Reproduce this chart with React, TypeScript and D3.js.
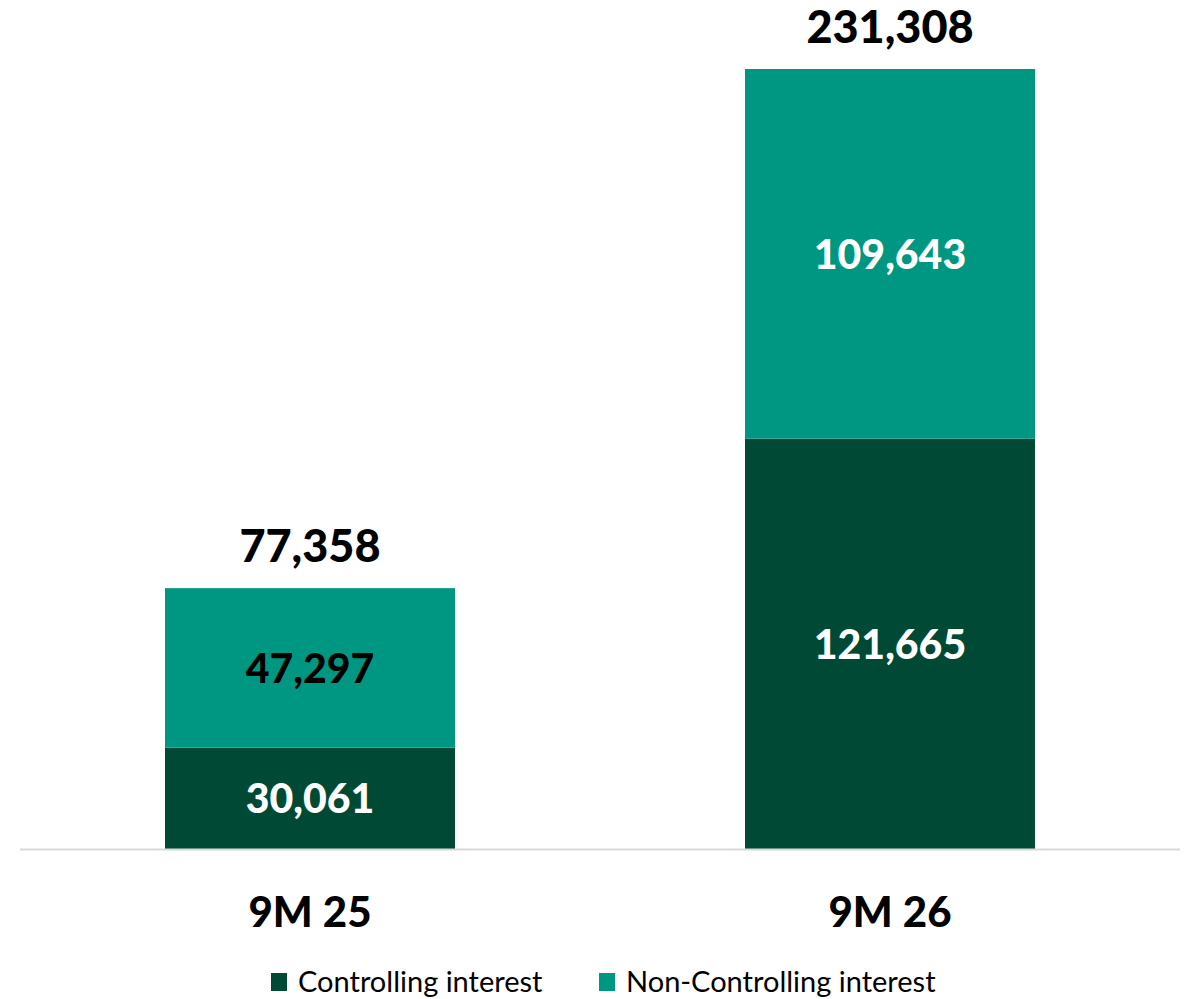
import React from "react";
import * as d3 from "d3";

const categories = ["9M 25", "9M 26"];
const controlling = [30061, 121665];
const nonControlling = [47297, 109643];
const totals = [77358, 231308];
const seriesNames = ["Controlling interest", "Non-Controlling interest"];
const colors = ["#004A35", "#009782"];

const W = 1190;
const H = 999;

export default function App() {
  const x = d3.scaleBand<string>().domain(categories).range([20, 1180]).paddingInner(0.5).paddingOuter(0.25);
  const y = d3.scaleLinear().domain([0, d3.max(totals) as number]).range([849, 69]);
  const fmt = d3.format(",");
  const font = "Lato, 'Open Sans', sans-serif";

  return (
    <svg width={W} height={H} style={{ position: "absolute", left: 0, top: 0, background: "#fff" }}>
      {categories.map((c, i) => {
        const bx = x(c) as number;
        const bw = x.bandwidth();
        const cx = bx + bw / 2;
        const y0 = y(0);
        const y1 = y(controlling[i]);
        const y2 = y(controlling[i] + nonControlling[i]);
        return (
          <g key={c}>
            <rect x={bx} y={y1} width={bw} height={y0 - y1} fill={colors[0]} />
            <rect x={bx} y={y2} width={bw} height={y1 - y2} fill={colors[1]} />
            <text x={cx} y={(y0 + y1) / 2 + 15} textAnchor="middle" fontFamily={font} fontWeight="900" fontSize={41} fill="#fff">
              {fmt(controlling[i])}
            </text>
            <text x={cx} y={(y1 + y2) / 2 + 15} textAnchor="middle" fontFamily={font} fontWeight="900" fontSize={41} fill={i === 0 ? "#000" : "#fff"}>
              {fmt(nonControlling[i])}
            </text>
            <text x={cx} y={y(totals[i]) - 26} textAnchor="middle" fontFamily={font} fontWeight="900" fontSize={45} fill="#000">
              {fmt(totals[i])}
            </text>
            <text x={cx} y={927} textAnchor="middle" fontFamily={font} fontWeight="900" fontSize={42} fill="#000">
              {c}
            </text>
          </g>
        );
      })}
      <line x1={20} x2={1180} y1={y(0) + 0.5} y2={y(0) + 0.5} stroke="#d9d9d9" strokeWidth={2} />
      {seriesNames.map((s, i) => {
        const lx = [271, 599][i];
        return (
          <g key={s}>
            <rect x={lx} y={973} width={16} height={18} fill={colors[i]} />
            <text x={lx + 27} y={992} fontFamily={font} fontSize={29} fill="#000">
              {s}
            </text>
          </g>
        );
      })}
    </svg>
  );
}
